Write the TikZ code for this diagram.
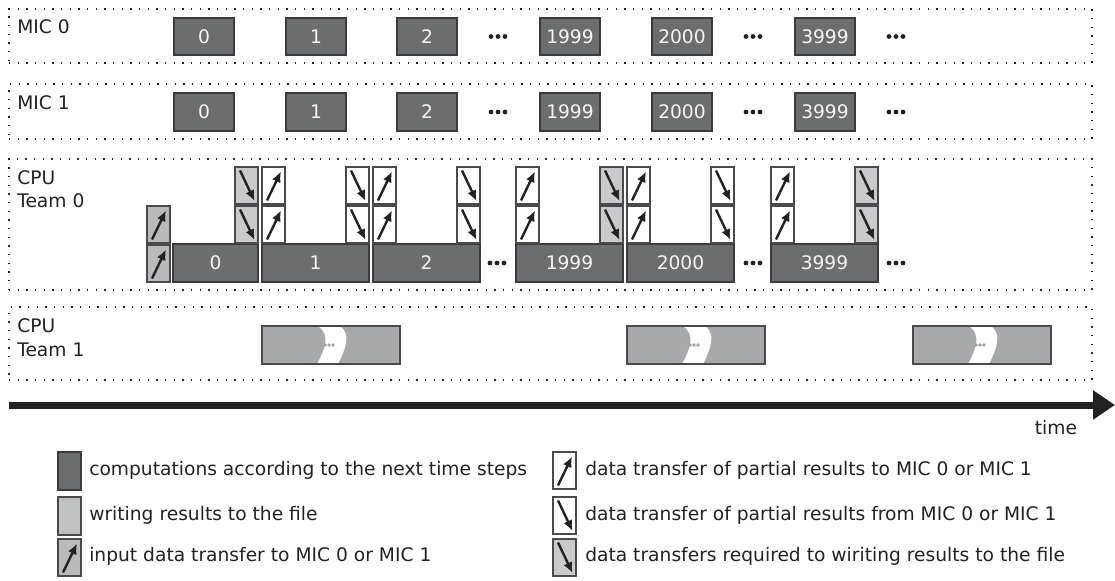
\documentclass[tikz,border=0pt]{standalone}
\usepackage{fontspec}
\setmainfont{DejaVu Sans}
\usetikzlibrary{arrows.meta}
\definecolor{comp}{HTML}{6C6D71}
\definecolor{compb}{HTML}{3A3B3D}
\definecolor{wfill}{HTML}{A8A9AC}
\definecolor{tgray}{HTML}{C9CACC}
\definecolor{igray}{HTML}{B9BABD}
\definecolor{lgray}{HTML}{C0C1C4}
\definecolor{edge}{HTML}{4A4A4C}
\definecolor{ink}{HTML}{222222}
\definecolor{banddot}{HTML}{A0A0A3}

\newcommand\bx[7]{%
  \node[#1, minimum width={(#5-(#3))*0.75pt}, minimum height={(#6-(#4))*0.75pt}] (#2) at ({(#3+#5)/2},{(#4+#6)/2}) {#7};}
\newcommand\upt[4]{%
  \bx{tbox,fill=#4}{#1}{#2}{#3}{#2+23}{#3+37}{}
  \draw[tarrow] ([shift={(5,-3.5)}]#1.south west) -- ([shift={(-4,4.5)}]#1.north east);}
\newcommand\dnt[4]{%
  \bx{tbox,fill=#4}{#1}{#2}{#3}{#2+23}{#3+37}{}
  \draw[tarrow] ([shift={(5,3.5)}]#1.north west) -- ([shift={(-3.5,-3)}]#1.south east);}
\newcommand\ellip[3]{%
  \coordinate (#1) at (#2,#3);
  \foreach \d in {-7,0,7} \fill[ink] ([xshift=\d*0.75pt]#1) circle (1.8pt);}
\newcommand\wrt[3]{%
  \bx{wbox}{#1}{#2}{#3}{#2+138}{#3+38}{}
  \fill[white] (#2+56,#3) .. controls (#2+68,#3+8) and (#2+64,#3+22) .. (#2+55,#3+38)
     -- (#2+76,#3+38) .. controls (#2+84,#3+22) and (#2+89,#3+8) .. (#2+78,#3) -- cycle;
  \foreach \d in {-4,0,4} \fill[banddot] (#2+67+\d,#3+19) circle (1.4pt);
  \draw[edge,line width=0.9pt] (#1.south west) rectangle (#1.north east);}

\begin{document}
\begin{tikzpicture}[x=0.75pt,y=-0.75pt,
  font=\fontsize{14pt}{16pt}\selectfont,
  every node/.style={text=ink},
  lane/.style={draw=ink, line width=1pt, dash pattern=on 1.1pt off 5.4pt, inner sep=0pt, outer sep=0pt},
  comp/.style={draw=compb, fill=comp, line width=1pt, text=white!96!black, inner sep=0pt, outer sep=0pt},
  tbox/.style={draw=edge, line width=0.8pt, inner sep=0pt, outer sep=0pt},
  wbox/.style={draw=edge, fill=wfill, line width=0.9pt, inner sep=0pt, outer sep=0pt},
  tarrow/.style={draw=ink, line width=1.8pt, -{Latex[length=8pt,width=7pt]}},
  lbl/.style={anchor=base west, inner sep=0pt},
  leg/.style={anchor=west, inner sep=0pt, text height=10pt, text depth=2.7pt},
  timearrow/.style={draw=ink, line width=5.25pt, -{Triangle[length=16.5pt,width=21pt]}}
]
\useasboundingbox (0,0) rectangle (1115,581);

% lanes
\bx{lane}{lane0}{9}{9}{1092}{63}{}
\bx{lane}{lane1}{9}{84}{1092}{139}{}
\bx{lane}{lane2}{9}{159}{1092}{290}{}
\bx{lane}{lane3}{9}{307}{1092}{380}{}

\node[lbl] (mic0) at (17,34) {MIC 0};
\node[lbl] (mic1) at (17,110) {MIC 1};
\node[lbl] (cpu0a) at (17,185) {CPU};
\node[lbl] (cpu0b) at (17,208) {Team 0};
\node[lbl] (cpu1a) at (17,332) {CPU};
\node[lbl] (cpu1b) at (17,356) {Team 1};

% MIC rows
\foreach \r/\ya/\yb in {a/18/55, b/93/131}{
  \bx{comp}{m\r0}{174}{\ya}{234}{\yb}{0}
  \bx{comp}{m\r1}{286}{\ya}{346}{\yb}{1}
  \bx{comp}{m\r2}{397}{\ya}{457}{\yb}{2}
  \bx{comp}{m\r3}{540}{\ya}{600}{\yb}{1999}
  \bx{comp}{m\r4}{652}{\ya}{712}{\yb}{2000}
  \bx{comp}{m\r5}{795}{\ya}{855}{\yb}{3999}
}
\ellip{da1}{498}{36.5}\ellip{da2}{753}{36.5}\ellip{da3}{896}{36.5}
\ellip{db1}{498}{112}\ellip{db2}{753}{112}\ellip{db3}{896}{112}

% CPU team 0
\upt{in1}{147}{206}{igray}
\upt{in2}{147}{245}{igray}
\bx{comp}{c0}{173}{244}{258}{282}{0}
\bx{comp}{c1}{262}{244}{369}{282}{1}
\bx{comp}{c2}{373}{244}{480}{282}{2}
\bx{comp}{c3}{516}{244}{623}{282}{1999}
\bx{comp}{c4}{627}{244}{734}{282}{2000}
\bx{comp}{c5}{771}{244}{878}{282}{3999}
\ellip{dc1}{497}{263}\ellip{dc2}{753}{263}\ellip{dc3}{896}{263}

\foreach \yy/\k in {167/a, 206/b}{
  \dnt{g0\k}{235}{\yy}{tgray}
  \upt{u1\k}{262}{\yy}{white}
  \dnt{d1\k}{346}{\yy}{white}
  \upt{u2\k}{373}{\yy}{white}
  \dnt{d2\k}{457}{\yy}{white}
  \upt{u3\k}{516}{\yy}{white}
  \dnt{g3\k}{600}{\yy}{tgray}
  \upt{u4\k}{627}{\yy}{white}
  \dnt{d4\k}{711}{\yy}{white}
  \upt{u5\k}{771}{\yy}{white}
  \dnt{g5\k}{855}{\yy}{tgray}
}

% CPU team 1
\wrt{w1}{262}{326}
\wrt{w2}{627}{326}
\wrt{w3}{913}{326}

% time axis
\coordinate (t0) at (9,405);
\coordinate (t1) at (1115,405);
\draw[timearrow] (t0) -- (t1);
\node[anchor=base, inner sep=0pt] (time) at (1056,434) {time};

% legend
\bx{comp}{lg1}{58}{452}{81}{490}{}
\node[leg] (lt1) at (89,471) {computations according to the next time steps};
\bx{tbox,fill=lgray}{lg2}{58}{497}{81}{535}{}
\node[leg] (lt2) at (89,516) {writing results to the file};
\upt{lg3}{58}{539}{igray}
\node[leg] (lt3) at (89,557) {input data transfer to MIC 0 or MIC 1};
\upt{lg4}{553}{452}{white}
\node[leg] (lt4) at (585,471) {data transfer of partial results to MIC 0 or MIC 1};
\dnt{lg5}{553}{497}{white}
\node[leg] (lt5) at (585,516) {data transfer of partial results from MIC 0 or MIC 1};
\dnt{lg6}{553}{539}{tgray}
\node[leg] (lt6) at (585,557) {data transfers required to wiriting results to the file};
\end{tikzpicture}
\end{document}
